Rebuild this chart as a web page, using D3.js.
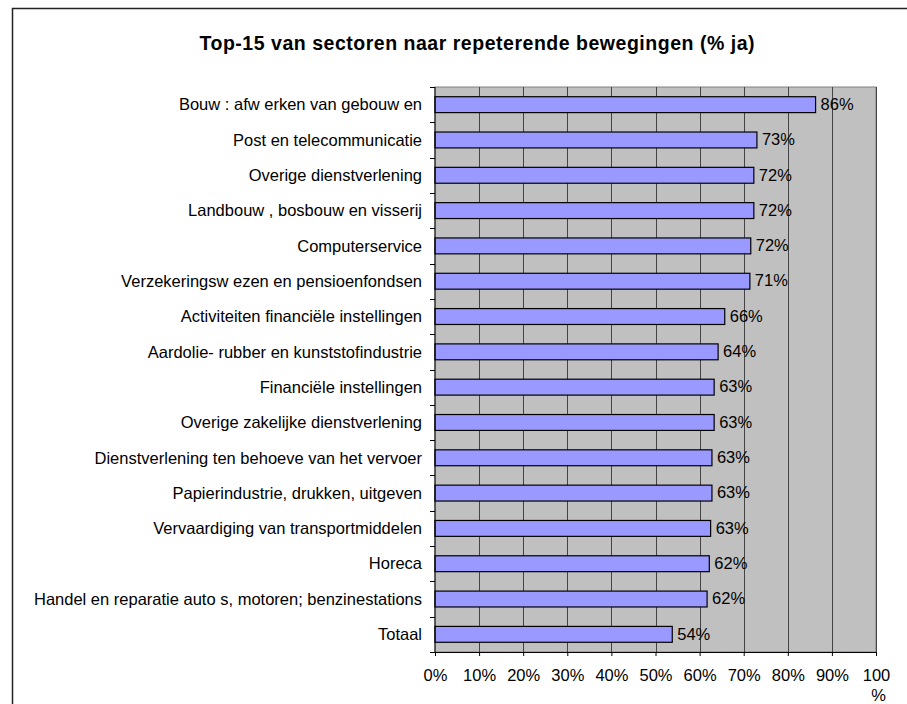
<!DOCTYPE html>
<html>
<head>
<meta charset="utf-8">
<script src="https://cdn.jsdelivr.net/npm/d3@7"></script>
<style>
  body { margin: 0; background: #fff; }
  svg { display: block; font-family: "Liberation Sans", Arial, sans-serif; }
</style>
</head>
<body>
<div id="chart"></div>
<script>
const sectors = [
  "Bouw : afw erken van gebouw en",
  "Post en telecommunicatie",
  "Overige dienstverlening",
  "Landbouw , bosbouw en visserij",
  "Computerservice",
  "Verzekeringsw ezen en pensioenfondsen",
  "Activiteiten financiële instellingen",
  "Aardolie- rubber en kunststofindustrie",
  "Financiële instellingen",
  "Overige zakelijke dienstverlening",
  "Dienstverlening ten behoeve van het vervoer",
  "Papierindustrie, drukken, uitgeven",
  "Vervaardiging van transportmiddelen",
  "Horeca",
  "Handel en reparatie auto s, motoren; benzinestations",
  "Totaal"
];
const values = [86.3, 73.0, 72.3, 72.3, 71.6, 71.4, 65.7, 64.2, 63.3, 63.3, 62.8, 62.8, 62.5, 62.2, 61.7, 53.8];
const xTicks = [0, 10, 20, 30, 40, 50, 60, 70, 80, 90, 100];

const W = 907, H = 704;
const margin = { top: 87, right: 31, bottom: 52, left: 435 };
const width = W - margin.left - margin.right;
const height = H - margin.top - margin.bottom;

const svg = d3.select("#chart").append("svg")
  .attr("width", W)
  .attr("height", H);

// chart frame
svg.append("path")
  .attr("d", `M12.5,${H + 2}V8.5H${W + 2}`)
  .attr("fill", "none")
  .attr("stroke", "#222")
  .attr("stroke-width", 1.5);

svg.append("text")
  .attr("x", 477)
  .attr("y", 50)
  .attr("text-anchor", "middle")
  .attr("textLength", 555)
  .style("font-size", "19.5px")
  .style("font-weight", "bold")
  .text("Top-15 van sectoren naar repeterende bewegingen (% ja)");

const g = svg.append("g")
  .attr("transform", `translate(${margin.left},${margin.top})`);

const x = d3.scaleLinear().domain([0, 100]).range([0, width]);
const y = d3.scaleBand().domain(sectors).range([0, height]).paddingInner(0.55).paddingOuter(0.275);

g.append("rect")
  .attr("width", width)
  .attr("height", height)
  .attr("fill", "#c0c0c0")
  .attr("stroke", "#808080");

g.selectAll(".grid")
  .data(xTicks.slice(1))
  .enter().append("line")
  .attr("class", "grid")
  .attr("x1", d => Math.round(x(d)) + 0.5)
  .attr("x2", d => Math.round(x(d)) + 0.5)
  .attr("y1", 0)
  .attr("y2", height)
  .attr("stroke", "#444")
  .attr("stroke-width", 1);

g.selectAll(".bar")
  .data(values)
  .enter().append("rect")
  .attr("class", "bar")
  .attr("x", 0)
  .attr("y", (d, i) => y(sectors[i]))
  .attr("width", d => x(d))
  .attr("height", y.bandwidth())
  .attr("fill", "#9999ff")
  .attr("stroke", "#000")
  .attr("stroke-width", 1.2);

g.selectAll(".val")
  .data(values)
  .enter().append("text")
  .attr("class", "val")
  .attr("x", d => x(d) + 5)
  .attr("y", (d, i) => y(sectors[i]) + y.bandwidth() / 2)
  .attr("dy", "0.32em")
  .style("font-size", "16.5px")
  .text(d => Math.round(d) + "%");

// left axis: ticks at category boundaries
const step = height / sectors.length;
const yAxis = g.append("g");
yAxis.append("line")
  .attr("x1", 0).attr("x2", 0).attr("y1", 0).attr("y2", height)
  .attr("stroke", "#000");
yAxis.selectAll(".yt")
  .data(d3.range(sectors.length + 1))
  .enter().append("line")
  .attr("x1", -5).attr("x2", 0)
  .attr("y1", d => Math.round(d * step) + 0.5)
  .attr("y2", d => Math.round(d * step) + 0.5)
  .attr("stroke", "#000");
yAxis.selectAll(".yl")
  .data(sectors)
  .enter().append("text")
  .attr("x", -13)
  .attr("y", d => y(d) + y.bandwidth() / 2)
  .attr("dy", "0.35em")
  .attr("text-anchor", "end")
  .style("font-size", "16.5px")
  .text(d => d);

// bottom axis
const xAxis = g.append("g")
  .attr("transform", `translate(0,${height})`)
  .call(d3.axisBottom(x).tickValues(xTicks).tickSize(4).tickFormat(d => d === 100 ? "" : d + "%"));
xAxis.select(".domain").attr("stroke", "#000");
xAxis.selectAll("text").style("font-size", "16.5px").attr("y", 17).attr("fill", "#000")
  .style("font-family", "'Liberation Sans', Arial, sans-serif");
const last = xAxis.selectAll(".tick").filter(d => d === 100).select("text");
last.append("tspan").attr("x", 0).attr("dy", "0.71em").text("100");
last.append("tspan").attr("x", 2).attr("dy", "1.25em").text("%");
</script>
</body>
</html>
